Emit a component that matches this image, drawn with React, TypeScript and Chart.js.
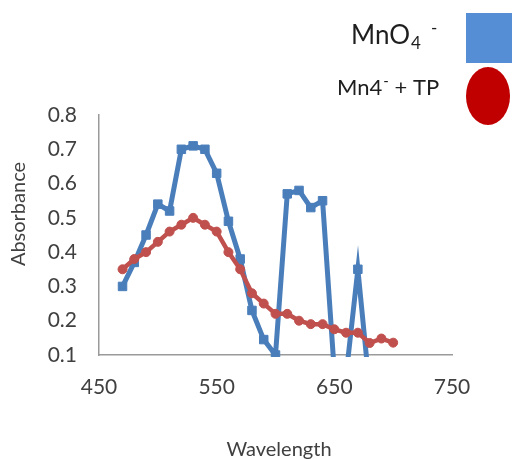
import React, { useEffect, useRef } from "react";
import { Chart, registerables } from "chart.js";

Chart.register(...registerables);

// ---- data ----
const wavelengths = [470, 480, 490, 500, 510, 520, 530, 540, 550, 560, 570, 580, 590, 600, 610, 620, 630, 640, 650, 660, 670, 680, 690, 700];
const mno4Absorbance = [0.30, 0.37, 0.45, 0.54, 0.52, 0.70, 0.71, 0.70, 0.63, 0.49, 0.38, 0.23, 0.145, 0.10, 0.57, 0.58, 0.53, 0.55, 0.05, 0.04, 0.35, 0.0];
const mn4TpAbsorbance = [0.35, 0.38, 0.40, 0.43, 0.46, 0.48, 0.50, 0.48, 0.46, 0.40, 0.35, 0.28, 0.25, 0.22, 0.22, 0.20, 0.19, 0.19, 0.175, 0.165, 0.165, 0.135, 0.148, 0.136];
const xAxisRange = [450, 750];
const yAxisRange = [0.1, 0.8];
const xTitle = "Wavelength";
const yTitle = "Absorbance";

const FONT = "Lato";

const overlayPlugin = {
  id: "overlay",
  afterDraw(chart: any) {
    const ctx = chart.ctx as CanvasRenderingContext2D;
    ctx.save();
    // legend markers
    ctx.fillStyle = "#558ed5";
    ctx.fillRect(466, 13, 60, 50);
    ctx.fillStyle = "#c00000";
    ctx.beginPath();
    ctx.ellipse(488, 96, 22, 29, 0, 0, Math.PI * 2);
    ctx.fill();

    // legend text
    ctx.fillStyle = "#1e1e1e";
    ctx.textAlign = "left";
    ctx.textBaseline = "alphabetic";
    let x = 351;
    ctx.font = `26px ${FONT}`;
    ctx.fillText("MnO", x, 44);
    x += ctx.measureText("MnO").width;
    ctx.font = `17px ${FONT}`;
    ctx.fillText("4", x + 1, 49);
    ctx.fillText("-", 431, 34);

    x = 337;
    ctx.font = `22px ${FONT}`;
    ctx.fillText("Mn4", x, 95);
    x += ctx.measureText("Mn4").width;
    ctx.font = `15px ${FONT}`;
    ctx.fillText("-", x + 1, 86);
    x += ctx.measureText("-").width + 1;
    ctx.font = `22px ${FONT}`;
    ctx.fillText(" + TP", x, 95);

    // axis titles
    ctx.fillStyle = "#404040";
    ctx.font = `20px ${FONT}`;
    ctx.textAlign = "center";
    ctx.fillText(xTitle, 279, 456);
    ctx.save();
    ctx.translate(25, 214);
    ctx.rotate(-Math.PI / 2);
    ctx.fillText(yTitle, 0, 0);
    ctx.restore();
    ctx.restore();
  },
};

export default function App() {
  const canvasRef = useRef<HTMLCanvasElement | null>(null);

  useEffect(() => {
    const canvas = canvasRef.current;
    if (!canvas) return;
    const blueData = mno4Absorbance.map((v, i) => ({ x: wavelengths[i], y: v }));
    const redData = mn4TpAbsorbance.map((v, i) => ({ x: wavelengths[i], y: v }));
    const chart = new Chart(canvas, {
      type: "line",
      data: {
        datasets: [
          {
            label: "MnO4-",
            data: blueData,
            borderColor: "#4a7ebb",
            backgroundColor: "#4a7ebb",
            borderWidth: 5,
            pointStyle: "rect",
            pointRadius: 6,
            pointBorderWidth: 1,
            pointBorderColor: "#4a7ebb",
            pointBackgroundColor: "#4a7ebb",
            tension: 0,
            order: 1,
            clip: { left: 5, right: 5, top: 5, bottom: 2 },
          },
          {
            label: "Mn4- + TP",
            data: redData,
            borderColor: "#c0504d",
            backgroundColor: "#c0504d",
            borderWidth: 4.5,
            pointStyle: "circle",
            pointRadius: 4.5,
            pointBorderWidth: 1,
            pointBorderColor: "#c0504d",
            pointBackgroundColor: "#c0504d",
            tension: 0,
            order: 0,
            clip: { left: 5, right: 5, top: 5, bottom: 2 },
          },
        ],
      },
      options: {
        responsive: false,
        animation: false,
        devicePixelRatio: 1,
        layout: { padding: { left: 0, top: 115, right: 60, bottom: 0 } },
        plugins: {
          legend: { display: false },
          tooltip: { enabled: false },
        },
        scales: {
          x: {
            type: "linear",
            min: xAxisRange[0],
            max: xAxisRange[1],
            grid: { display: false, drawTicks: false },
            border: { display: true, color: "#9a9a9a", width: 1.5 },
            ticks: {
              stepSize: 100,
              padding: 20,
              color: "#404040",
              font: { family: FONT, size: 21 },
              maxRotation: 0,
            },
            afterFit: (scale: any) => {
              scale.height = 104;
            },
          },
          y: {
            type: "linear",
            min: yAxisRange[0],
            max: yAxisRange[1],
            grid: { display: false, drawTicks: false },
            border: { display: true, color: "#9a9a9a", width: 1.5 },
            ticks: {
              stepSize: 0.1,
              padding: 22,
              color: "#404040",
              font: { family: FONT, size: 21 },
              callback: (v: any) => Number(v).toFixed(1),
            },
            afterFit: (scale: any) => {
              scale.width = 99;
            },
          },
        },
      },
      plugins: [overlayPlugin],
    });
    return () => chart.destroy();
  }, []);

  return (
    <div style={{ position: "absolute", left: 0, top: 0, width: 512, height: 459, background: "#fff" }}>
      <canvas ref={canvasRef} width={512} height={459} />
    </div>
  );
}
